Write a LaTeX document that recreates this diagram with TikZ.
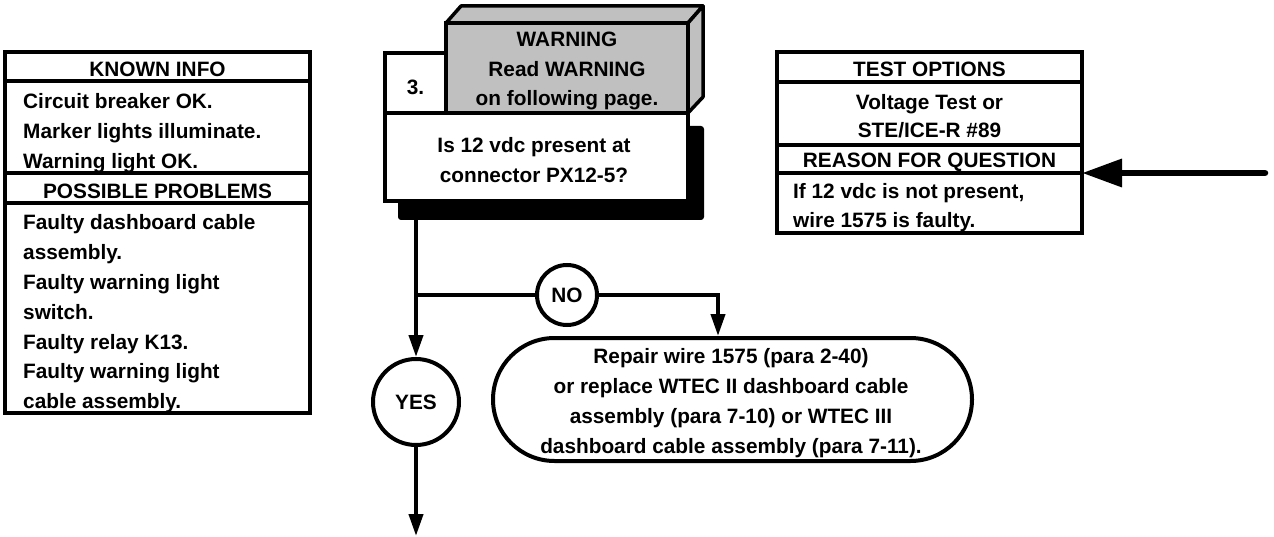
\documentclass[tikz,border=0pt]{standalone}
\usepackage{fontspec}
\setmainfont{Liberation Sans}
\usetikzlibrary{arrows.meta,shapes.misc}
\definecolor{wgray}{RGB}{192,192,192}
\begin{document}
\begin{tikzpicture}[x=1pt,y=-1pt,
  box/.style={draw, line width=3.5pt, inner sep=0pt, outer sep=0pt, anchor=north west},
  txt/.style={font=\fontsize{20.8}{30}\selectfont\bfseries, inner sep=0pt},
  lt/.style={txt, anchor=base west},
  ct/.style={txt, anchor=base},
  circ/.style={draw, circle, fill=white, line width=4pt, inner sep=0pt, txt},
  conn/.style={line width=4pt},
  arr/.style={conn, -{Triangle[length=22pt,width=14pt]}},
  bigarr/.style={line width=6.5pt, line cap=round, -{Triangle[length=40pt,width=27pt]}}]
\useasboundingbox (0,0) rectangle (1274,537);

% ---------- left table ----------
\node[box, minimum width=305pt, minimum height=29pt] (kh) at (5,52) {};
\node[box, minimum width=305pt, minimum height=92pt] (kb) at (5,81) {};
\node[box, minimum width=305pt, minimum height=30pt] (ph) at (5,173) {};
\node[box, minimum width=305pt, minimum height=210pt] (pb) at (5,203) {};
\node[ct] (tkh) at (157.5,77) {KNOWN INFO};
\foreach \t [count=\i] in {Circuit breaker OK., Marker lights illuminate., Warning light OK.}
  \node[lt] (tk\i) at (23,{79+30*\i}) {\t};
\node[ct] (tph) at (157.5,199) {POSSIBLE PROBLEMS};
\foreach \t [count=\i] in {Faulty dashboard cable, assembly., Faulty warning light, switch., Faulty relay K13., Faulty warning light, cable assembly.}
  \node[lt] (tp\i) at (23,{200+29.8*\i}) {\t};

% ---------- centre step box ----------
\node[box, fill, draw=none, rounded corners=3pt, minimum width=306pt, minimum height=94pt] (shadow) at (398,126) {};
\node[box, fill=white, minimum width=303pt, minimum height=88pt] (q) at (385,113) {};
\node[box, fill=white, minimum width=61pt, minimum height=60pt] (num) at (385,53) {};
\node[box, fill=wgray, minimum width=242pt, minimum height=90pt] (warn) at (446,23) {};
\filldraw[fill=wgray, line width=3.5pt, line join=round]
  (warn.north west) -- ++(15,-17) -- ++(242,0) -- (warn.north east) -- cycle;
\filldraw[fill=wgray, line width=3.5pt, line join=round]
  (warn.north east) -- ++(15,-17) -- ++(0,91) -- (warn.south east) -- cycle;
\node[ct] (tnum) at (415.5,95) {3.};
\node[ct] (tw1) at (567,47) {WARNING};
\node[ct] (tw2) at (567,77) {Read WARNING};
\node[ct] (tw3) at (567,106) {on following page.};
\node[ct] (tq1) at (534,153) {Is 12 vdc present at};
\node[ct] (tq2) at (534,183) {connector PX12-5?};

% ---------- right table ----------
\node[box, minimum width=305pt, minimum height=30pt] (th) at (777,52) {};
\node[box, minimum width=305pt, minimum height=63pt] (tb) at (777,82) {};
\node[box, minimum width=305pt, minimum height=28pt] (rh) at (777,145) {};
\node[box, minimum width=305pt, minimum height=60pt] (rb) at (777,173) {};
\node[ct] (tth) at (929.5,77) {TEST OPTIONS};
\node[ct] (tt1) at (929.5,110) {Voltage Test or};
\node[ct] (tt2) at (929.5,138) {STE/ICE-R \#89};
\node[ct] (trh) at (929.5,168) {REASON FOR QUESTION};
\node[lt] (tr1) at (793,199) {If 12 vdc is not present,};
\node[lt] (tr2) at (793,228) {wire 1575 is faulty.};

% ---------- outcome box ----------
\node[draw, rounded rectangle, line width=4pt, inner sep=0pt, minimum width=479pt, minimum height=123pt] (rep) at (732.5,399.5) {};
\foreach \t [count=\i] in {Repair wire 1575 (para 2-40), or replace WTEC II dashboard cable, assembly (para 7-10) or WTEC III, dashboard cable assembly (para 7-11).}
  \node[ct] (tr\i x) at (731,{333+30*\i}) {\t};

% ---------- connectors ----------
\coordinate (j) at (416,295);
\node[circ, minimum size=86pt] (yes) at (416,402) {YES};
\node[circ, minimum size=60pt] (no) at (567,295) {NO};
\draw[conn] (q.south -| j) -- (j);
\draw[arr] (j) -- (yes);
\draw[conn] (j) -- (no);
\draw[arr] (no) -| ([xshift=-14.5pt]rep.north);
\coordinate (bot) at (416,536);
\draw[arr] (yes) -- (bot);
\coordinate (src) at (1265,173);
\draw[bigarr] (src) -- (rb.north east);
\end{tikzpicture}
\end{document}
